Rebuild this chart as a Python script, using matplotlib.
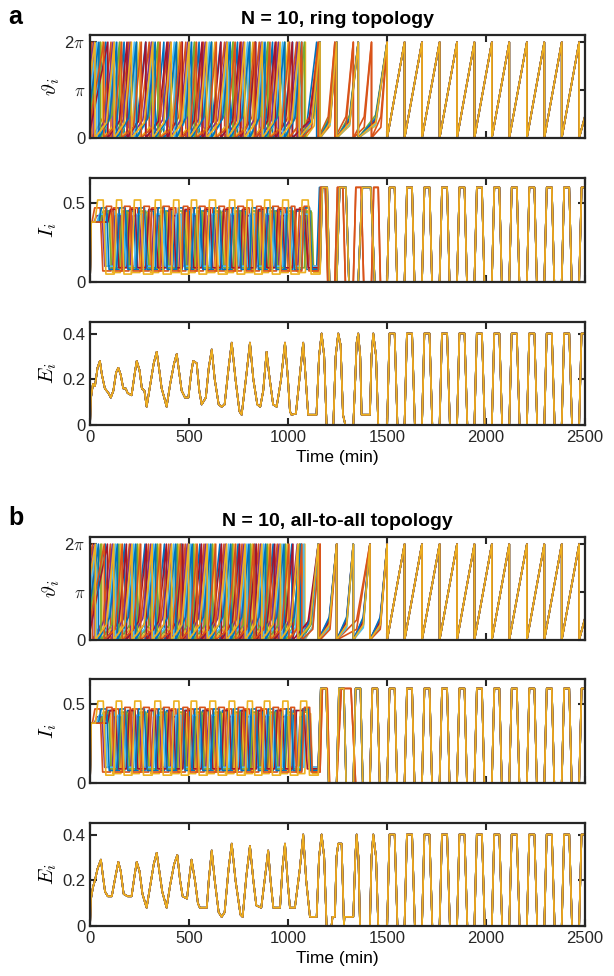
import numpy as np
import matplotlib.pyplot as plt

plt.rcParams['font.family'] = ['Liberation Sans', 'DejaVu Sans']
plt.rcParams['mathtext.fontset'] = 'cm'

# MATLAB default line colours, cycled over the 10 oscillators
colors = ['#0072BD', '#D95319', '#EDB120', '#7E2F8E', '#77AC30', '#4DBEEE', '#A2142F']

# common reset (firing) times once everything is synchronised (min)
sync_resets = [1501, 1589, 1677, 1766, 1854, 1942, 2030, 2118, 2207, 2295, 2383, 2471]
end_phase = 1.4

# ---- panel a: ring topology ----
phi0_a = [0.9, 5.5, 1.4, 4.8, 1.6, 3.0, 0.5, 2.2, 1.1, 4.0]
knee_a = [1.0, 1.4, 0.8, 1.2, 1.5, 0.9, 1.1, 1.3, 0.7, 1.0]
early_a = [
    [80, 172, 281, 373, 465, 551, 660, 745, 836, 922, 1023, 1145],
    [10, 106, 196, 299, 395, 484, 572, 680, 765, 855, 942, 1043],
    [63, 153, 252, 347, 453, 531, 631, 725, 823, 902, 1001, 1088],
    [20, 116, 203, 310, 405, 494, 582, 689, 775, 865, 952, 1050],
    [53, 149, 236, 343, 438, 527, 615, 722, 808, 898, 985, 1083],
    [35, 125, 224, 319, 426, 503, 603, 698, 796, 874, 973, 1059],
    [90, 187, 282, 389, 466, 566, 661, 759, 837, 936, 1022],
    [45, 135, 234, 329, 436, 513, 613, 708, 806, 884, 983, 1069],
    [70, 160, 259, 354, 461, 538, 638, 733, 831, 909, 1008, 1070],
    [25, 122, 209, 317, 410, 500, 589, 693, 781, 870, 960, 1057],
]
late_yellow_a = [1162, 1246, 1355]
late_orange_a = [1153, 1237, 1330, 1422]
orange_group_a = [1, 8]
hi_a = [0.45, 0.47, 0.44, 0.42, 0.45, 0.43, 0.46, 0.47, 0.48, 0.52]
lo_a = [0.08, 0.07, 0.06, 0.10, 0.09, 0.10, 0.09, 0.08, 0.07, 0.05]

E_t_a = [0, 5, 15, 25, 38, 50, 60, 75, 93, 105, 118, 132, 143, 155, 168, 180, 190, 210, 225,
         236, 250, 262, 275, 286, 305, 322, 337, 350, 362, 375, 387, 405, 425, 438, 452, 463,
         480, 497, 510, 521, 539, 552, 564, 585, 600, 615, 630, 650, 665, 680, 700, 716, 735,
         755, 766, 790, 808, 825, 845, 860, 875, 892, 905, 925, 943, 965, 985, 1000, 1010,
         1018, 1040, 1060, 1077, 1090, 1102, 1144, 1157, 1170, 1183, 1195, 1229, 1241, 1254,
         1266, 1278, 1290, 1330, 1340, 1347, 1355, 1365, 1372, 1414, 1422, 1431, 1445, 1456,
         1494]
E_v_a = [0, 0.12, 0.18, 0.17, 0.25, 0.28, 0.22, 0.16, 0.14, 0.12, 0.15, 0.23, 0.25, 0.22,
         0.16, 0.16, 0.14, 0.13, 0.22, 0.28, 0.24, 0.16, 0.15, 0.08, 0.18, 0.27, 0.32, 0.24,
         0.16, 0.12, 0.08, 0.18, 0.27, 0.31, 0.22, 0.15, 0.12, 0.12, 0.22, 0.28, 0.27, 0.15,
         0.09, 0.12, 0.25, 0.33, 0.20, 0.09, 0.08, 0.09, 0.25, 0.36, 0.20, 0.06, 0.045, 0.22,
         0.36, 0.20, 0.09, 0.08, 0.15, 0.32, 0.22, 0.09, 0.08, 0.20, 0.36, 0.20, 0.06, 0.045,
         0.05, 0.22, 0.36, 0.20, 0.045, 0.045, 0.30, 0.40, 0.30, 0, 0, 0.30, 0.40, 0.35,
         0.045, 0, 0, 0.20, 0.36, 0.40, 0.30, 0.045, 0.045, 0.30, 0.40, 0.30, 0, 0]

# ---- panel b: all-to-all topology ----
phi0_b = [1.0, 5.3, 1.5, 4.6, 1.8, 3.2, 0.6, 2.4, 1.2, 4.2]
knee_b = [1.1, 1.3, 0.9, 1.4, 1.0, 0.8, 1.2, 1.5, 0.7, 1.0]
early_b = [
    [78, 175, 278, 376, 462, 555, 656, 748, 833, 925, 1020, 1069],
    [12, 103, 199, 296, 398, 481, 576, 677, 768, 852, 946, 1058],
    [60, 156, 249, 350, 450, 534, 628, 727, 820, 905, 998, 1085],
    [22, 113, 206, 307, 408, 491, 585, 686, 778, 862, 955, 1047],
    [55, 146, 239, 340, 441, 524, 618, 719, 811, 895, 988, 1060],
    [33, 128, 221, 322, 423, 506, 600, 701, 793, 877, 970, 1080],
    [88, 184, 285, 386, 469, 563, 664, 756, 840, 933, 1025],
    [43, 138, 231, 332, 433, 516, 610, 711, 803, 887, 980, 1065],
    [72, 163, 256, 357, 458, 541, 635, 736, 828, 912, 1005, 1070],
    [27, 120, 212, 314, 412, 498, 592, 690, 784, 868, 962, 1050],
]
late_yellow_b = [1153, 1246, 1330, 1414]
late_orange_b = [1162, 1246, 1414]
orange_group_b = [1, 8]
hi_b = [0.46, 0.47, 0.44, 0.42, 0.45, 0.43, 0.46, 0.47, 0.48, 0.52]
lo_b = [0.08, 0.07, 0.06, 0.10, 0.09, 0.10, 0.09, 0.08, 0.07, 0.05]

E_t_b = [0, 5, 15, 25, 38, 55, 65, 76, 90, 110, 125, 143, 155, 170, 190, 210, 225, 236,
         250, 265, 286, 305, 322, 337, 350, 365, 387, 405, 425, 441, 455, 468, 490, 500,
         513, 530, 545, 555, 590, 600, 615, 630, 650, 665, 680, 700, 716, 735, 760, 771,
         790, 808, 825, 840, 865, 885, 900, 912, 926, 960, 972, 985, 998, 1010, 1035, 1060,
         1077, 1092, 1111, 1145, 1157, 1170, 1183, 1195, 1220, 1225, 1237, 1245, 1254, 1271,
         1283, 1285, 1330, 1340, 1347, 1356, 1364, 1414, 1422, 1431, 1445, 1456, 1494]
E_v_b = [0, 0.12, 0.17, 0.20, 0.25, 0.29, 0.22, 0.15, 0.13, 0.13, 0.20, 0.28, 0.24, 0.14,
         0.13, 0.13, 0.22, 0.28, 0.24, 0.14, 0.08, 0.18, 0.27, 0.32, 0.24, 0.15, 0.08, 0.18,
         0.27, 0.31, 0.20, 0.13, 0.12, 0.20, 0.29, 0.20, 0.10, 0.08, 0.08, 0.20, 0.33, 0.20,
         0.06, 0.04, 0.06, 0.25, 0.36, 0.20, 0.05, 0.04, 0.22, 0.35, 0.20, 0.09, 0.08, 0.22,
         0.33, 0.20, 0.08, 0.08, 0.25, 0.36, 0.20, 0.08, 0.08, 0.25, 0.40, 0.20, 0.04, 0.04,
         0.30, 0.40, 0.30, 0, 0, 0.04, 0.04, 0.30, 0.36, 0.36, 0, 0.04, 0.04, 0.30, 0.40,
         0.30, 0, 0, 0.30, 0.40, 0.30, 0, 0]

E_top = 0.4
I_top = 0.6
period = 88


def all_resets(early, group):
    late = [t for t in group if t > early[-1] + 40]
    return early + late + sync_resets


def phase_path(resets, phi0, knee):
    t = [0, resets[0]]
    y = [phi0, 2 * np.pi]
    for r0, r1 in zip(resets[:-1], resets[1:]):
        t.append(r0)
        y.append(0)
        if r0 < 1490:
            t.append(r0 + 0.6 * (r1 - r0))
            y.append(knee)
        t.append(r1)
        y.append(2 * np.pi)
    t += [resets[-1], 2500]
    y += [0, end_phase]
    return t, y


def current_path(resets, hi, lo):
    t = [0, 6, resets[0]]
    y = [0, 0.38, 0.38]
    for r0, r1 in zip(resets, resets[1:] + [resets[-1] + period]):
        T = r1 - r0
        h, l = (hi, lo) if r0 < 1100 else (I_top, 0.0)
        t += [r0, r0 + 0.14 * T, r0 + 0.43 * T, r0 + 0.57 * T, r1]
        y += [y[-1], h, h, l, l]
    return t, y


def mean_path(E_t, E_v):
    t = list(E_t)
    y = list(E_v)
    for r in sync_resets:
        t += [r, r + 12, r + 38, r + 52]
        y += [0, E_top, E_top, 0]
    return t, y


def style(ax, ylim, yticks, yticklabels, ylabel, xlabels=False):
    ax.set_xlim(0, 2500)
    ax.set_ylim(*ylim)
    ax.set_xticks([0, 500, 1000, 1500, 2000, 2500])
    if not xlabels:
        ax.set_xticklabels([])
    ax.set_yticks(yticks)
    ax.set_yticklabels(yticklabels)
    ax.set_ylabel(ylabel, fontsize=15, labelpad=2)
    ax.tick_params(direction='in', top=True, right=True, length=5, width=1.5,
                   labelsize=12, colors='#262626')
    for s in ax.spines.values():
        s.set_linewidth(1.6)
        s.set_color('#262626')


fig = plt.figure(figsize=(6.14, 9.76), dpi=100)
left, width = 0.1466, 0.806

panels = [
    ('a', 'N = 10, ring topology', early_a, phi0_a, knee_a, late_yellow_a, late_orange_a,
     orange_group_a, hi_a, lo_a, E_t_a, E_v_a, [0.8586, 0.7111, 0.5645], 0.975),
    ('b', 'N = 10, all-to-all topology', early_b, phi0_b, knee_b, late_yellow_b, late_orange_b,
     orange_group_b, hi_b, lo_b, E_t_b, E_v_b, [0.3443, 0.1977, 0.0512], 0.462),
]

for (letter, title, early, phi0, knee, ly, lo_grp, og, hi, lo, E_t, E_v, ys, ly_txt) in panels:
    ax1 = fig.add_axes([left, ys[0], width, 0.1055])
    ax2 = fig.add_axes([left, ys[1], width, 0.1066])
    ax3 = fig.add_axes([left, ys[2], width, 0.1055])
    Et, Ev = mean_path(E_t, E_v)
    for i in range(10):
        group = lo_grp if i in og else ly
        resets = all_resets(early[i], group)
        c = colors[i % 7]
        t, y = phase_path(resets, phi0[i], knee[i])
        ax1.plot(t, y, color=c, lw=1.2)
        t, y = current_path(resets, hi[i], lo[i])
        ax2.plot(t, y, color=c, lw=1.2)
        ax3.plot(Et, Ev, color=c, lw=1.2)

    style(ax1, (0, 6.75), [0, np.pi, 2 * np.pi], ['0', r'$\pi$', r'2$\pi$'], r'$\vartheta_i$')
    style(ax2, (0, 0.66), [0, 0.5], ['0', '0.5'], r'$I_i$')
    style(ax3, (0, 0.45), [0, 0.2, 0.4], ['0', '0.2', '0.4'], r'$E_i$', xlabels=True)
    ax3.set_xlabel('Time (min)', fontsize=12.5, labelpad=4)
    ax1.set_title(title, fontsize=14, fontweight='bold', pad=8)
    fig.text(0.013, ly_txt, letter, fontsize=18, fontweight='bold')

fig.savefig('out.png', dpi=100)
